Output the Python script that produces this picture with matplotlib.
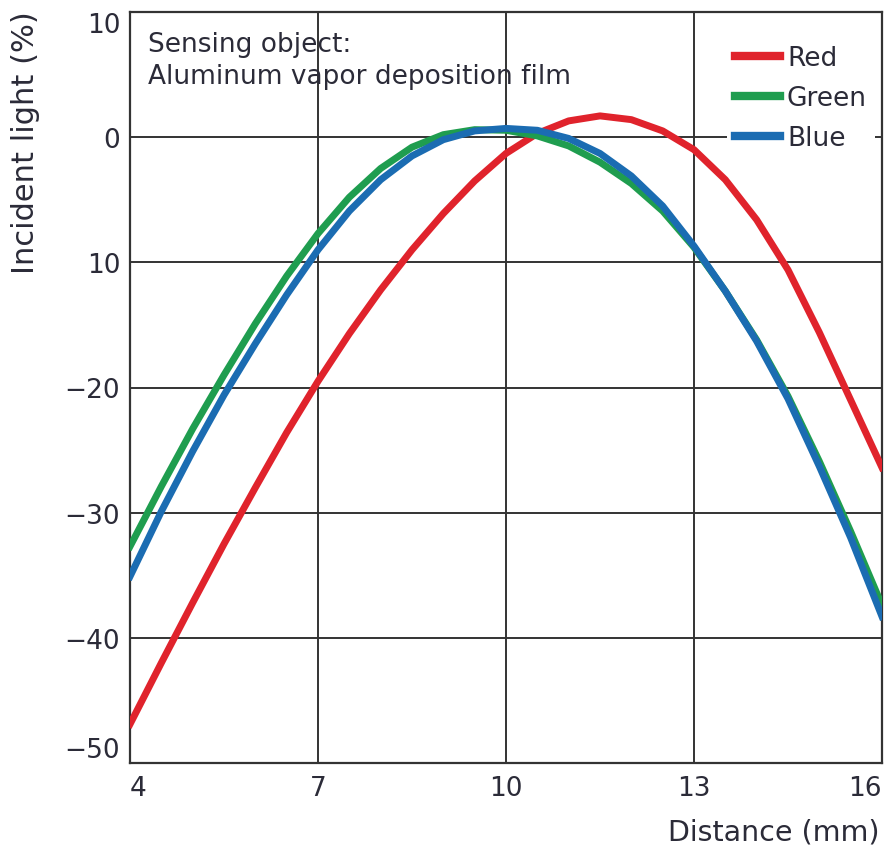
import matplotlib
matplotlib.use("Agg")
import matplotlib.pyplot as plt

# values, every 0.5 mm
distance = [4.0, 4.5, 5.0, 5.5, 6.0, 6.5, 7.0, 7.5, 8.0, 8.5, 9.0, 9.5, 10.0,
            10.5, 11.0, 11.5, 12.0, 12.5, 13.0, 13.5, 14.0, 14.5, 15.0, 15.5, 16.0]
red = [-46.9, -42.0, -37.2, -32.5, -28.0, -23.6, -19.5, -15.7, -12.2, -9.0, -6.1,
       -3.5, -1.3, 0.3, 1.3, 1.7, 1.4, 0.5, -1.0, -3.4, -6.6, -10.6, -15.6, -21.0, -26.4]
green = [-32.7, -27.9, -23.3, -19.0, -14.9, -11.1, -7.7, -4.8, -2.5, -0.8, 0.2,
         0.6, 0.55, 0.1, -0.7, -2.0, -3.7, -5.9, -8.8, -12.3, -16.2, -20.7, -25.9, -31.5, -37.4]
blue = [-35.1, -29.9, -25.1, -20.6, -16.5, -12.6, -9.0, -5.9, -3.4, -1.5, -0.2,
        0.5, 0.7, 0.55, -0.1, -1.3, -3.1, -5.5, -8.7, -12.3, -16.3, -20.9, -26.3, -32.0, -38.3]

x_ticks = [4, 7, 10, 13, 16]
y_ticks = [10, 0, -10, -20, -30, -40, -50]
y_tick_labels = ["10", "0", "10", "\u221220", "\u221230", "\u221240", "\u221250"]

plt.rcParams['font.family'] = ['DejaVu Sans']
text_col = '#2b2b38'
grid_col = '#333333'

fig = plt.figure(figsize=(8.86, 8.54), dpi=100)
ax = fig.add_axes([130 / 886, 1 - 764 / 854, 752 / 886, 751 / 854])

ax.plot(distance, red, color='#e0232c', lw=5, label='Red', zorder=3, solid_joinstyle='round')
ax.plot(distance, green, color='#1f9d4f', lw=5, label='Green', zorder=3, solid_joinstyle='round')
ax.plot(distance, blue, color='#1b6cb2', lw=5, label='Blue', zorder=3, solid_joinstyle='round')

ax.set_xlim(4, 16)
ax.set_ylim(-50, 10)
ax.set_xticks(x_ticks)
ax.set_yticks(y_ticks)
ax.set_yticklabels(y_tick_labels)
ax.tick_params(length=0, labelsize=19, labelcolor=text_col)
ax.tick_params(axis='x', pad=9)
ax.tick_params(axis='y', pad=7)

xl = ax.get_xticklabels()
xl[0].set_ha('left')
xl[-1].set_ha('right')
yl = ax.get_yticklabels()
yl[0].set_va('top')
yl[-1].set_va('bottom')

ax.grid(True, color=grid_col, lw=1.4, zorder=1)
ax.set_axisbelow(True)
for s in ax.spines.values():
    s.set_color(grid_col)
    s.set_linewidth(1.6)

ax.text((148 - 130) / 752, 1 - (32 - 13) / 751,
        "Sensing object:\nAluminum vapor deposition film",
        transform=ax.transAxes, ha='left', va='top', fontsize=19,
        color=text_col, linespacing=1.3)

leg = ax.legend(loc='upper left', bbox_to_anchor=((727 - 130) / 752, 0.966), fontsize=19,
                handlelength=1.7, handletextpad=0.27, labelspacing=0.53,
                borderpad=0.3, borderaxespad=0, frameon=True, fancybox=False)
leg.get_frame().set_edgecolor('none')
leg.get_frame().set_facecolor('white')
leg.get_frame().set_alpha(1)
for t in leg.get_texts():
    t.set_color(text_col)
for h in leg.legend_handles:
    h.set_linewidth(6)

fig.text(26 / 886, 1 - 143 / 854, "Incident light (%)", rotation=90,
         ha='center', va='center', fontsize=22, color=text_col)
fig.text(879 / 886, 1 - 833 / 854, "Distance (mm)", ha='right', va='center',
         fontsize=20.5, color=text_col)

fig.savefig("out.png", dpi=100)
